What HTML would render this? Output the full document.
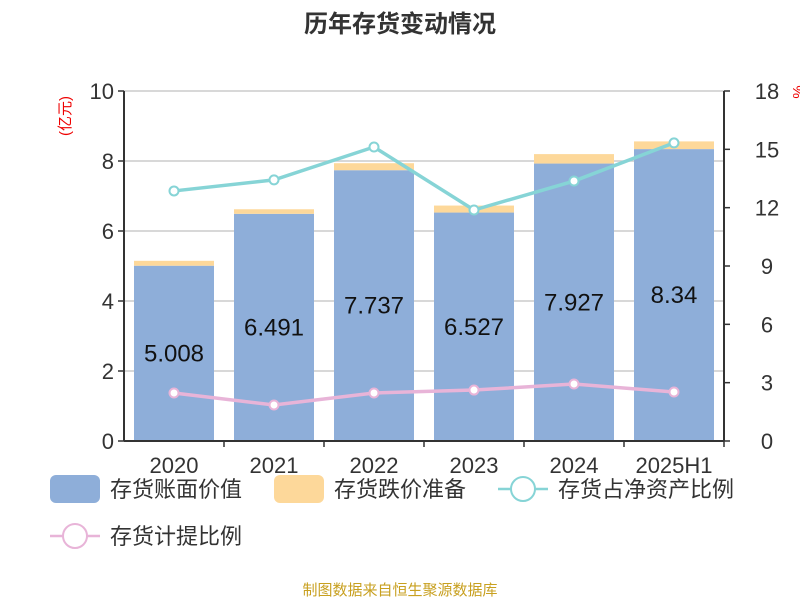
<!DOCTYPE html>
<html><head><meta charset="utf-8"><style>
body{margin:0;background:#fff;font-family:"Liberation Sans","Noto Sans CJK SC",sans-serif}
svg text{font-family:"Liberation Sans","Noto Sans CJK SC",sans-serif}
</style></head><body>
<svg id="c" width="800" height="600" xmlns="http://www.w3.org/2000/svg">
<text x="400" y="32" text-anchor="middle" font-size="24" font-weight="bold" fill="#333">历年存货变动情况</text>
<text transform="translate(70,116) rotate(-90)" text-anchor="middle" font-size="15" fill="#e00">(亿元)</text>
<text transform="translate(803,92) rotate(-90)" text-anchor="middle" font-size="15" fill="#e00">%</text>
<g id="grid"></g><g id="bars"></g><g id="lines"></g><g id="axes"></g>
<text x="400" y="595" text-anchor="middle" font-size="15" fill="#c8a020">制图数据来自恒生聚源数据库</text>
</svg>
<script>
const categories=["2020","2021","2022","2023","2024","2025H1"];
const bookValue=[5.008,6.491,7.737,6.527,7.927,8.34];
const provision=[0.14,0.13,0.2,0.2,0.27,0.22];
const ratioNet=[12.86,13.43,15.12,11.88,13.37,15.33];
const ratioProv=[2.47,1.85,2.47,2.62,2.93,2.52];
const leftTicks=[0,2,4,6,8,10];
const rightTicks=[0,3,6,9,12,15,18];
const NS="http://www.w3.org/2000/svg";
const x0=124,x1=724,yT=91,yB=441;
const xs=i=>x0+(x1-x0)/categories.length*(i+0.5);
const yl=v=>yB-(yB-yT)*v/10;
const yr=v=>yB-(yB-yT)*v/18;
function mk(t,a,p,txt){const e=document.createElementNS(NS,t);for(const k in a)e.setAttribute(k,a[k]);if(txt!=null)e.textContent=txt;p.appendChild(e);return e;}
const G=document.getElementById('grid'),B=document.getElementById('bars'),L=document.getElementById('lines'),A=document.getElementById('axes'),S=document.getElementById('c');
leftTicks.forEach(v=>{
 const l=mk('line',{x1:x0,x2:x1,y1:yl(v),y2:yl(v),stroke:'#ccc','stroke-width':1.5},G);
 
 
 mk('line',{x1:x0-6,x2:x0,y1:yl(v),y2:yl(v),stroke:'#333','stroke-width':1.5},A);
 const t=mk('text',{x:x0-10,y:yl(v)+8,'text-anchor':'end','font-size':22,fill:'#333'},A,String(v));
 
 
});
rightTicks.forEach(v=>{
 mk('line',{x1:x1,x2:x1+6,y1:yr(v),y2:yr(v),stroke:'#333','stroke-width':1.5},A);
 const t=mk('text',{x:x1+43,y:yr(v)+8,'text-anchor':'middle','font-size':22,fill:'#333'},A,String(v));
 
 
});
mk('line',{x1:x0,x2:x0,y1:yT,y2:yB,stroke:'#333','stroke-width':2},A);
mk('line',{x1:x1,x2:x1,y1:yT,y2:yB,stroke:'#333','stroke-width':2},A);
mk('line',{x1:x0,x2:x1,y1:yB,y2:yB,stroke:'#333','stroke-width':2},A);
categories.forEach((c,i)=>{
 const bx=xs(i)-40;
 const r=mk('rect',{x:bx,y:yl(bookValue[i]),width:80,height:yB-yl(bookValue[i]),fill:'#8eaed9'},B);
 
 
 const p=mk('rect',{x:bx,y:yl(bookValue[i]+provision[i]),width:80,height:yl(bookValue[i])-yl(bookValue[i]+provision[i]),fill:'#fdd89a'},B);
 
 
 const v=mk('text',{x:xs(i),y:(yl(bookValue[i])+yB)/2+8,'text-anchor':'middle','font-size':24,fill:'#111'},B,String(bookValue[i]));
 
 
 mk('line',{x1:x0+100*(i+1),x2:x0+100*(i+1),y1:yB,y2:yB+6,stroke:'#333','stroke-width':1.5},A);
 const t=mk('text',{x:xs(i),y:yB+32,'text-anchor':'middle','font-size':22,fill:'#333'},A,c);
 
 
});
function line(vals,color,name){
 const pl=mk('polyline',{points:vals.map((v,i)=>xs(i)+','+yr(v)).join(' '),fill:'none',stroke:color,'stroke-width':3.5},L);
 
 
 vals.forEach((v,i)=>{const c=mk('circle',{cx:xs(i),cy:yr(v),r:4.5,fill:'#fff',stroke:color,'stroke-width':2},L);
 
 });
}
line(ratioNet,'#86d4d6','net-asset-ratio-line');
line(ratioProv,'#e8b4d8','provision-ratio-line');
function leg(x,y,type,color,label){
 const g=mk('g',{},S);
 
 
 if(type==='bar')mk('rect',{x:x,y:y-14,width:50,height:28,rx:6,fill:color},g);
 else{mk('line',{x1:x,x2:x+50,y1:y,y2:y,stroke:color,'stroke-width':2.5},g);mk('circle',{cx:x+25,cy:y,r:12,fill:'#fff',stroke:color,'stroke-width':2},g);}
 mk('text',{x:x+60,y:y+8,'font-size':22,fill:'#333'},g,label);
}
leg(50,489,'bar','#8eaed9','存货账面价值');
leg(274,489,'bar','#fdd89a','存货跌价准备');
leg(498,489,'line','#86d4d6','存货占净资产比例');
leg(50,536,'line','#e8b4d8','存货计提比例');
</script>
</body></html>
